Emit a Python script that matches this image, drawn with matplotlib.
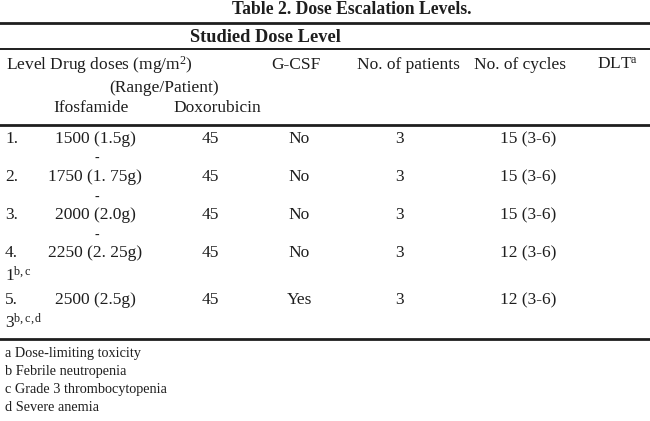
import matplotlib
matplotlib.use("Agg")
import matplotlib.pyplot as plt

plt.rcParams['font.family'] = ['Liberation Serif', 'DejaVu Serif']
plt.rcParams['mathtext.fontset'] = 'custom'
plt.rcParams['mathtext.rm'] = 'Liberation Serif'
plt.rcParams['mathtext.it'] = 'Liberation Serif:italic'

title = "Table 2. Dose Escalation Levels."
group_header = "Studied Dose Level"
levels = ["1.", "2.", "3.", "4.", "5."]
ifosfamide = ["1500 (1.5g)", "1750 (1. 75g)", "2000 (2.0g)", "2250 (2. 25g)", "2500 (2.5g)"]
doxorubicin = ["45", "45", "45", "45", "45"]
gcsf = ["No", "No", "No", "No", "Yes"]
patients = ["3", "3", "3", "3", "3"]
cycles = ["15 (3-6)", "15 (3-6)", "15 (3-6)", "12 (3-6)", "12 (3-6)"]
dlt_count = ["", "", "", "1", "3"]
dlt_marks = ["", "", "", "b,c", "b,c,d"]
footnotes = ["a Dose-limiting toxicity", "b Febrile neutropenia",
             "c Grade 3 thrombocytopenia", "d Severe anemia"]

W, H = 650, 421
fig = plt.figure(figsize=(W / 100, H / 100), dpi=100)
fig.patch.set_facecolor("white")
FS = 12.5
COL = "#1e1e1e"

def T(x, y, s, ha="left", size=FS, weight="normal"):
    fig.text(x / W, 1 - y / H, s, ha=ha, va="center", fontsize=size,
             weight=weight, color=COL)

def rule(y, lw):
    fig.add_artist(plt.Line2D([0, 1], [1 - y / H, 1 - y / H], lw=lw, color=COL))

T(352, 10, title, ha="center", size=12.7, weight="bold")
rule(23, 2.0)
T(265, 37, group_header, ha="center", size=13.2, weight="bold")
rule(49, 1.4)

T(6, 65, r"Level Drug doses (mg/m$^{2}$)")
T(296, 65, "G-CSF", ha="center")
T(357, 65, "No. of patients")
T(474, 65, "No. of cycles")
T(597, 65, r"DLT$^{\mathrm{a}}$")
T(164, 88, "(Range/Patient)", ha="center")
T(53, 108, "Ifosfamide")
T(173, 108, "Doxorubicin")
rule(125, 2.0)

row_y = [139, 177, 215, 253, 300]
dash_y = [158, 197, 235]
for i in range(len(levels)):
    y = row_y[i]
    T(5, y, levels[i])
    T(95, y, ifosfamide[i], ha="center")
    T(210, y, doxorubicin[i], ha="center")
    T(299, y, gcsf[i], ha="center")
    T(399, y, patients[i], ha="center")
    T(500, y, cycles[i])
    if dlt_count[i]:
        T(5, y + 23, dlt_count[i] + r"$^{\mathrm{" + dlt_marks[i] + "}}$")
for y in dash_y:
    T(97, y, "-", ha="center", size=10)

rule(339, 2.0)
for j, f in enumerate(footnotes):
    T(5, 353 + 18.3 * j, f, size=10.3)

fig.savefig("out.png", dpi=100, facecolor="white")
